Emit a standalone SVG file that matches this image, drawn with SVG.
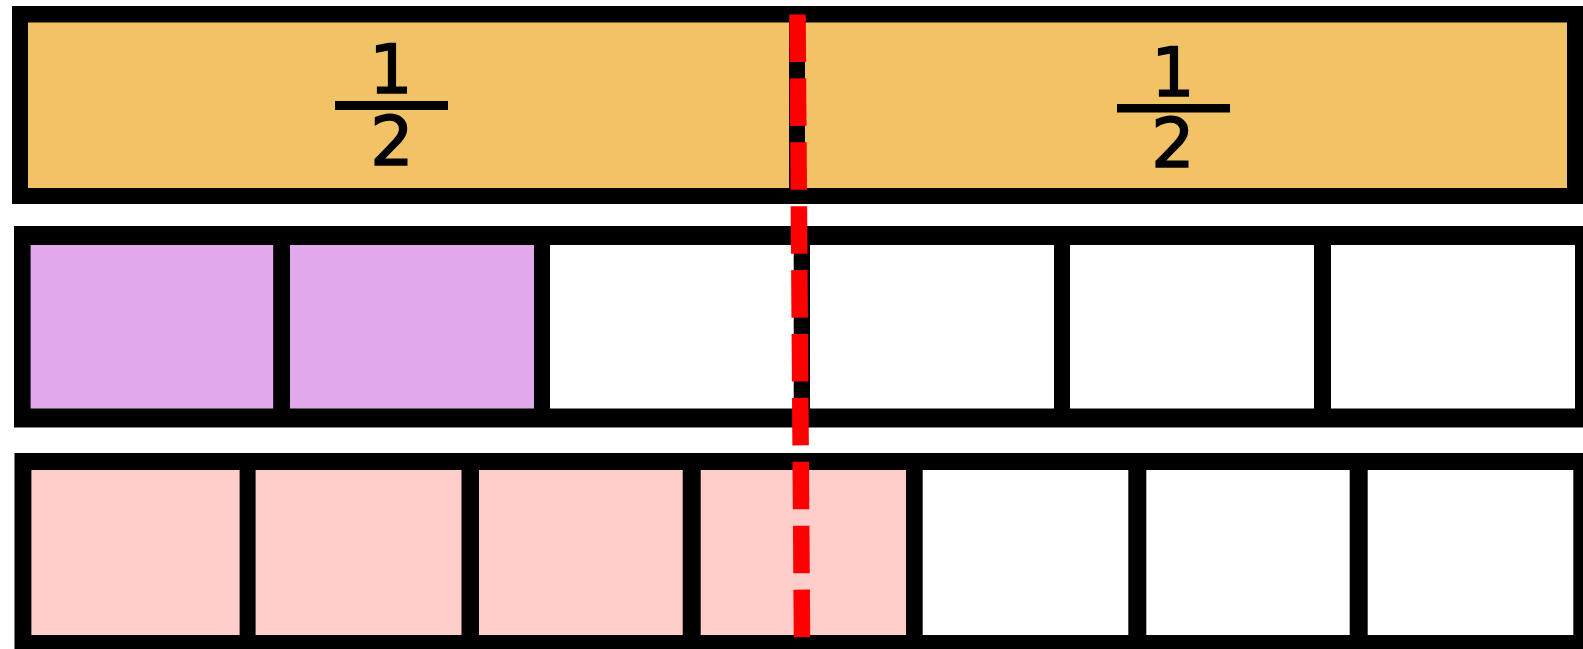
<svg xmlns="http://www.w3.org/2000/svg" width="1583" height="649" viewBox="0 0 1583 649">
<style>
.frame{fill:#000000}
.half{fill:#F2C366}
.sixth{fill:#E1A8EB}
.eighth{fill:#FFCECB}
.empty{fill:#FFFFFF}
.num{font-family:"DejaVu Sans","Liberation Sans",sans-serif;font-size:68px;fill:#000000;stroke:#000000;stroke-width:1.6;text-anchor:middle}
.bar{fill:#000000}
.cut{fill:none;stroke:#FF0000;stroke-width:16.5;stroke-dasharray:47.5 16.4}
</style>
<rect width="1583" height="649" fill="#FFFFFF"/>
<g id="halves">
  <rect class="frame" x="12" y="6" width="1571" height="198"/>
  <g id="half-1">
    <rect class="half" x="28" y="22.5" width="761" height="165.5"/>
    <text class="num" x="391" y="93">1</text>
    <rect class="bar" x="335" y="101" width="113" height="9"/>
    <text class="num" x="392" y="165">2</text>
  </g>
  <g id="half-2">
    <rect class="half" x="805" y="22.5" width="762" height="165.5"/>
    <text class="num" x="1173" y="96">1</text>
    <rect class="bar" x="1117" y="104" width="113" height="8.5"/>
    <text class="num" x="1173" y="167">2</text>
  </g>
</g>
<g id="sixths">
  <rect class="frame" x="14" y="226" width="1569" height="201.5"/>
  <rect id="sixth-1" class="sixth" x="30.6" y="245" width="242.6" height="163.5"/>
  <rect id="sixth-2" class="sixth" x="290" y="245" width="244" height="163.5"/>
  <rect id="sixth-3" class="empty" x="550" y="245" width="243.7" height="163.5"/>
  <rect id="sixth-4" class="empty" x="810" y="245" width="244" height="163.5"/>
  <rect id="sixth-5" class="empty" x="1070" y="245" width="244" height="163.5"/>
  <rect id="sixth-6" class="empty" x="1331" y="245" width="244" height="163.5"/>
</g>
<g id="eighths">
  <rect class="frame" x="14.5" y="453" width="1568.5" height="196"/>
  <rect id="eighth-1" class="eighth" x="31.4" y="470" width="208.2" height="165"/>
  <rect id="eighth-2" class="eighth" x="255.6" y="470" width="205.9" height="165"/>
  <rect id="eighth-3" class="eighth" x="479" y="470" width="203.7" height="165"/>
  <rect id="eighth-4" class="eighth" x="700.7" y="470" width="205.3" height="165"/>
  <rect id="eighth-5" class="empty" x="922.7" y="470" width="205.6" height="165"/>
  <rect id="eighth-6" class="empty" x="1146.3" y="470" width="203.4" height="165"/>
  <rect id="eighth-7" class="empty" x="1367.7" y="470" width="205.6" height="165"/>
</g>
<g id="connectors">
  <line class="cut" x1="797.5" y1="14.5" x2="802" y2="638"/>
</g>
</svg>
